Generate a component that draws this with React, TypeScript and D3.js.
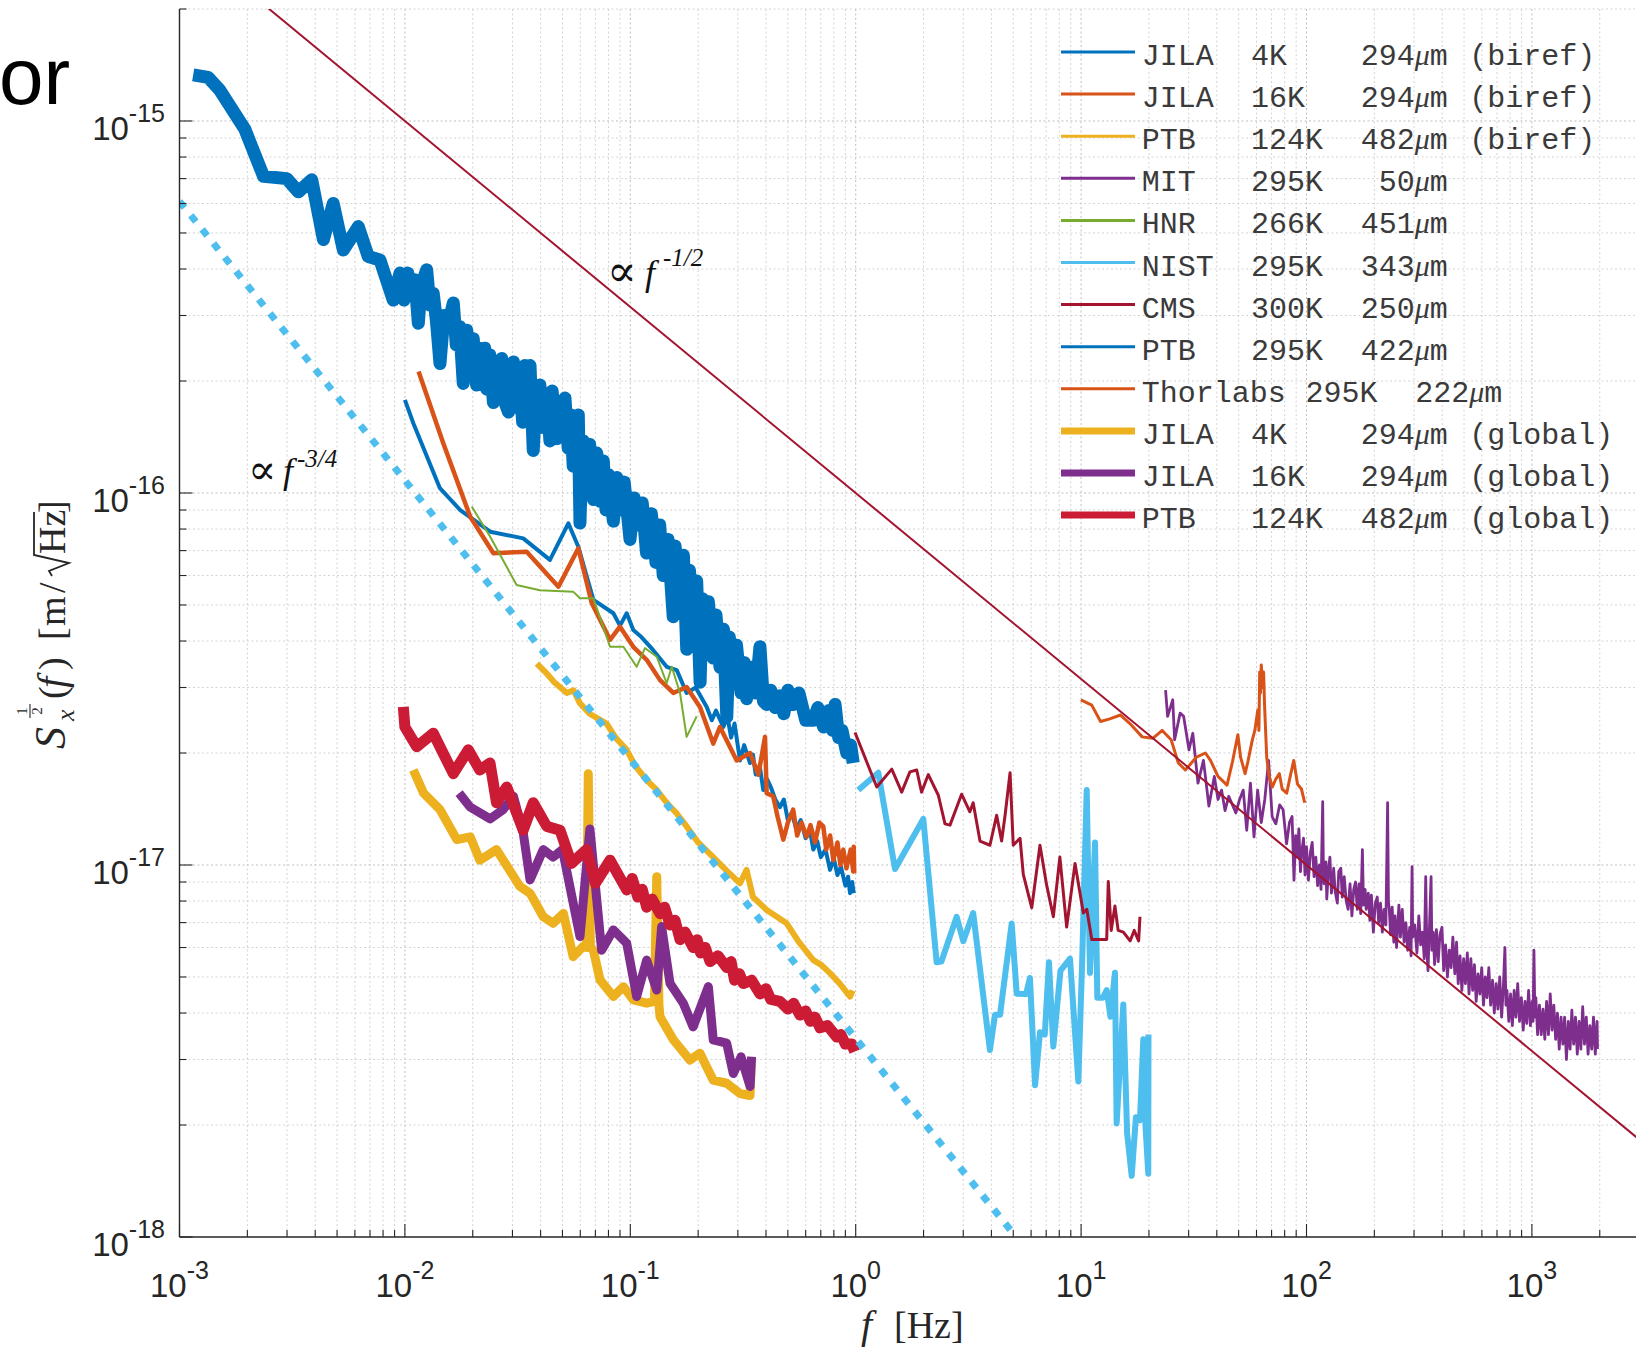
import React from "react";
import * as d3 from "d3";

type Pt = [number, number];

// ---------------- data ----------------
const xTickExponents = [-3, -2, -1, 0, 1, 2, 3];
const yTickExponents = [-18, -17, -16, -15];

const legendNames = ["JILA", "JILA", "PTB", "MIT", "HNR", "NIST", "CMS", "PTB", "Thorlabs", "JILA", "JILA", "PTB"];
const legendTemps = ["4K", "16K", "124K", "295K", "266K", "295K", "300K", "295K", "295K", "4K", "16K", "124K"];
const legendSizes = ["294", "294", "482", "50", "451", "343", "250", "422", "222", "294", "294", "482"];
const legendNotes = ["(biref)", "(biref)", "(biref)", "", "", "", "", "", "", "(global)", "(global)", "(global)"];

const jila4kBiref: Pt[] = [
  [0.01, 1.78e-16], [0.0109, 1.54e-16], [0.0143, 1.03e-16], [0.0176, 9.0e-17], [0.0239, 7.87e-17],
  [0.0335, 7.55e-17], [0.044, 6.61e-17], [0.0531, 8.29e-17], [0.0588, 7.17e-17], [0.0686, 5.16e-17],
  [0.0841, 4.75e-17], [0.09, 4.4e-17], [0.0964, 4.75e-17], [0.1031, 4.28e-17], [0.112, 4.1e-17],
  [0.1264, 3.78e-17], [0.145, 3.41e-17], [0.1607, 3.34e-17], [0.1778, 2.9e-17], [0.195, 3.0e-17],
  [0.2183, 2.66e-17], [0.23, 2.45e-17], [0.24, 2.6e-17], [0.2586, 2.35e-17], [0.27, 2.5e-17],
  [0.28, 2.2e-17], [0.29, 2.4e-17], [0.3067, 1.91e-17], [0.32, 2.1e-17], [0.3397, 1.88e-17],
  [0.35, 1.98e-17], [0.36, 1.75e-17], [0.375, 1.85e-17], [0.389, 1.59e-17], [0.405, 1.7e-17],
  [0.42, 1.62e-17], [0.44, 1.5e-17], [0.4613, 1.43e-17], [0.48, 1.5e-17], [0.5, 1.32e-17],
  [0.52, 1.38e-17], [0.545, 1.25e-17], [0.57, 1.32e-17], [0.6, 1.18e-17], [0.625, 1.25e-17],
  [0.6486, 1.1e-17], [0.675, 1.16e-17], [0.7, 1.05e-17], [0.735, 1.1e-17], [0.769, 9.7e-18],
  [0.8, 1.04e-17], [0.83, 9.4e-18], [0.86, 9.9e-18], [0.9, 8.8e-18], [0.925, 9.3e-18],
  [0.944, 8.4e-18], [0.965, 9.0e-18], [0.98, 8.4e-18],
];

const jila16kBiref: Pt[] = [
  [0.0115, 2.12e-16], [0.0148, 1.36e-16], [0.0195, 8.63e-17], [0.0247, 6.89e-17], [0.0347, 6.95e-17],
  [0.048, 5.6e-17], [0.0588, 7.1e-17], [0.0675, 5.05e-17], [0.0813, 4.03e-17], [0.09, 4.37e-17],
  [0.1031, 3.86e-17], [0.1182, 3.56e-17], [0.1355, 3.14e-17], [0.1552, 2.9e-17], [0.1778, 3.01e-17],
  [0.2037, 2.66e-17], [0.2333, 2.12e-17], [0.25, 2.35e-17], [0.2965, 1.91e-17], [0.3397, 2.0e-17],
  [0.37, 1.75e-17], [0.396, 2.21e-17], [0.4027, 1.56e-17], [0.4305, 1.53e-17], [0.45, 1.35e-17],
  [0.4775, 1.17e-17], [0.5, 1.3e-17], [0.528, 1.41e-17], [0.55, 1.2e-17], [0.575, 1.3e-17],
  [0.606, 1.19e-17], [0.63, 1.28e-17], [0.66, 1.15e-17], [0.69, 1.3e-17], [0.718, 1.27e-17],
  [0.74, 1.1e-17], [0.77, 1.2e-17], [0.7955, 1.03e-17], [0.83, 1.15e-17], [0.855, 1.0e-17],
  [0.881, 1.1e-17], [0.91, 9.8e-18], [0.95, 1.1e-17], [0.975, 9.6e-18], [0.98, 1.12e-17],
  [0.985, 9.5e-18],
];

const ptb124kBiref: Pt[] = [
  [0.0385, 3.48e-17], [0.042, 3.3e-17], [0.046, 3.1e-17], [0.0523, 2.9e-17], [0.056, 2.95e-17],
  [0.0598, 2.72e-17], [0.066, 2.55e-17], [0.0785, 2.4e-17], [0.086, 2.2e-17], [0.0964, 2.04e-17],
  [0.105, 1.85e-17], [0.1182, 1.69e-17], [0.13, 1.6e-17], [0.145, 1.47e-17], [0.16, 1.38e-17],
  [0.1778, 1.27e-17], [0.2, 1.15e-17], [0.2333, 1.05e-17], [0.27, 9.6e-18], [0.3067, 8.93e-18],
  [0.328, 9.7e-18], [0.35, 8.2e-18], [0.4027, 7.57e-18], [0.44, 7.3e-18], [0.494, 6.97e-18],
  [0.56, 6.2e-18], [0.6486, 5.55e-18], [0.7, 5.4e-18], [0.769, 5.12e-18], [0.85, 4.8e-18],
  [0.944, 4.43e-18], [0.97, 4.6e-18],
];

const mit295k: Pt[] = [
  [23.7, 2.95e-17], [24.2, 2.51e-17], [25.5, 2.78e-17], [26.0, 2.17e-17], [27.5, 2.56e-17],
  [28.5, 2.51e-17], [30.1, 2.04e-17], [31.3, 2.26e-17], [33.0, 1.66e-17], [34.9, 1.91e-17],
  [36.9, 1.44e-17], [39.0, 1.73e-17], [40.5, 1.5e-17], [42.0, 1.59e-17], [43.5, 1.4e-17],
  [45.2, 1.53e-17], [48.6, 1.38e-17], [50.5, 1.5e-17], [52.4, 1.59e-17], [54.3, 1.24e-17],
  [56.4, 1.66e-17], [58.5, 1.19e-17], [60.7, 1.59e-17], [63, 1.3e-17], [65.3, 1.5e-17],
  [67.9, 1.91e-17], [70.4, 1.35e-17], [73.1, 1.29e-17], [76, 1.45e-17], [78.7, 1.41e-17],
  [81.6, 1.14e-17], [84, 1.3e-17], [86.3, 1.35e-17],
  [88, 9.1e-18], [89.5, 1.2e-17], [91, 1.05e-17], [92.5, 1.25e-17], [94, 9.6e-18],
  [95.5, 1.1e-17], [97, 1.18e-17], [98.5, 9.4e-18], [100, 1.12e-17], [102, 9.1e-18],
  [104, 1.08e-17], [106, 1.15e-17], [108, 9.3e-18], [110, 1.05e-17], [112, 8.8e-18],
  [114, 1.0e-17], [116, 8.6e-18], [118, 1.48e-17], [119, 9.0e-18], [120, 8.9e-18],
  [122, 1.02e-17], [123, 8.1e-18], [125, 9.6e-18], [127, 1.05e-17], [129, 8.4e-18],
  [132, 9.8e-18], [134, 8.5e-18], [137, 7.9e-18], [139, 9.6e-18], [142, 9.8e-18],
  [144, 8.2e-18], [147, 9.3e-18], [150, 8.0e-18], [153, 7.6e-18], [156, 8.9e-18],
  [159, 7.3e-18], [162, 8.6e-18], [165, 9.0e-18], [168, 7.6e-18], [171, 8.9e-18],
  [174, 7.4e-18], [177, 1.1e-17], [179, 7.8e-18], [182, 8.6e-18], [184, 7.6e-18],
  [188, 8.4e-18], [191, 7.1e-18], [194, 8.3e-18], [198, 6.6e-18], [202, 7.9e-18],
  [206, 8.2e-18], [209, 7.0e-18], [213, 7.9e-18], [217, 6.6e-18], [221, 7.6e-18],
  [225, 6.9e-18], [229, 1.47e-17], [231, 8.0e-18], [233, 7.6e-18], [236, 6.5e-18],
  [240, 7.7e-18], [244, 6.2e-18], [247, 7.3e-18], [251, 6.0e-18], [257, 7.8e-18],
  [261, 6.4e-18], [266, 7.6e-18], [271, 6.2e-18], [276, 7.0e-18], [281, 5.9e-18],
  [287, 6.8e-18], [291, 5.7e-18], [294, 9.9e-18], [296, 6.4e-18], [302, 6.9e-18],
  [309, 5.8e-18], [315, 7.3e-18], [321, 6.1e-18], [327, 6.6e-18], [333, 5.6e-18],
  [338, 9.3e-18], [342, 5.9e-18], [346, 5.2e-18], [350, 6.4e-18], [357, 9.3e-18],
  [360, 5.9e-18], [365, 6.6e-18], [370, 5.4e-18], [377, 6.7e-18], [384, 5.5e-18],
  [391, 6.5e-18], [399, 6.8e-18], [406, 5.2e-18], [414, 6.1e-18], [422, 5.0e-18],
  [430, 5.9e-18], [438, 5.3e-18], [446, 6.4e-18], [455, 5.1e-18], [463, 6.2e-18],
  [471, 4.8e-18], [480, 5.7e-18], [489, 4.6e-18], [498, 5.6e-18], [507, 4.8e-18],
  [517, 5.8e-18], [526, 4.5e-18], [536, 5.6e-18], [546, 4.6e-18], [556, 5.4e-18],
  [566, 4.3e-18], [577, 5.1e-18], [588, 4.5e-18], [599, 5.3e-18], [610, 4.2e-18],
  [621, 5.0e-18], [632, 4.4e-18], [644, 5.3e-18], [656, 4.2e-18], [669, 4.9e-18],
  [681, 4.0e-18], [694, 4.8e-18], [707, 4.1e-18], [720, 5.0e-18], [734, 3.9e-18],
  [747, 4.7e-18], [759, 6.0e-18], [767, 4.2e-18], [775, 4.6e-18], [790, 3.8e-18],
  [804, 4.5e-18], [819, 3.7e-18], [834, 4.6e-18], [849, 3.9e-18], [865, 4.8e-18],
  [881, 3.8e-18], [898, 4.4e-18], [915, 3.6e-18], [932, 4.3e-18], [949, 3.75e-18],
  [967, 4.6e-18], [985, 3.7e-18], [1003, 4.3e-18], [1012, 3.8e-18], [1021, 5.9e-18],
  [1031, 3.9e-18], [1041, 4.4e-18], [1060, 3.5e-18], [1080, 4.2e-18], [1100, 3.5e-18],
  [1120, 4.1e-18], [1141, 3.4e-18], [1162, 4.3e-18], [1184, 3.5e-18], [1206, 4.5e-18],
  [1228, 3.6e-18], [1251, 4.2e-18], [1274, 3.4e-18], [1298, 4.0e-18], [1322, 3.2e-18],
  [1347, 3.9e-18], [1372, 3.3e-18], [1397, 3.9e-18], [1423, 3.0e-18], [1450, 3.8e-18],
  [1477, 3.2e-18], [1504, 4.07e-18], [1532, 3.3e-18], [1561, 3.9e-18], [1590, 3.1e-18],
  [1619, 3.8e-18], [1649, 3.2e-18], [1680, 4.16e-18], [1711, 3.3e-18], [1743, 3.9e-18],
  [1775, 3.1e-18], [1808, 3.7e-18], [1842, 3.2e-18], [1876, 3.9e-18], [1911, 3.1e-18],
  [1946, 3.8e-18], [1955, 3.2e-18],
];

const hnr266k: Pt[] = [
  [0.0198, 9.19e-17], [0.0239, 7.63e-17], [0.0313, 5.66e-17], [0.0397, 5.48e-17], [0.0558, 5.43e-17],
  [0.0598, 5.21e-17], [0.0686, 5.21e-17], [0.0813, 3.86e-17], [0.0932, 3.86e-17], [0.1067, 3.41e-17],
  [0.1161, 3.83e-17], [0.131, 3.63e-17], [0.145, 3.08e-17], [0.1527, 3.41e-17], [0.1662, 2.9e-17],
  [0.1778, 2.21e-17], [0.197, 2.51e-17],
];

const nist295k: Pt[] = [
  [1.027, 1.59e-17], [1.26, 1.77e-17], [1.494, 9.75e-18], [1.995, 1.33e-17], [2.286, 5.48e-18],
  [2.4, 5.5e-18], [2.805, 7.26e-18], [3.0, 6.24e-18], [3.32, 7.43e-18], [3.94, 3.18e-18],
  [4.15, 3.96e-18], [4.37, 3.96e-18], [4.92, 6.96e-18], [5.18, 4.51e-18], [5.7, 4.5e-18],
  [5.93, 4.97e-18], [6.25, 2.56e-18], [6.57, 3.55e-18], [6.9, 3.5e-18], [7.2, 5.48e-18],
  [7.53, 3.25e-18], [8.1, 5.2e-18], [8.93, 5.6e-18], [9.72, 2.62e-18], [10.1, 5.4e-18],
  [10.59, 1.59e-17], [10.95, 5.13e-18], [11.53, 1.15e-17], [11.8, 4.4e-18], [12.5, 4.4e-18],
  [12.99, 4.61e-18], [13.5, 3.91e-18], [14.13, 5.13e-18], [14.38, 2.02e-18], [15.39, 4.22e-18],
  [16.0, 1.9e-18], [16.77, 1.46e-18], [17.5, 2.1e-18], [18.25, 2.06e-18], [18.88, 3.4e-18],
  [19.3, 2.0e-18], [19.86, 1.48e-18], [19.9, 3.5e-18],
];

const cms300k: Pt[] = [
  [0.993, 2.27e-17], [1.24, 1.62e-17], [1.445, 1.81e-17], [1.6, 1.57e-17], [1.74, 1.78e-17],
  [1.865, 1.8e-17], [1.96, 1.57e-17], [2.1, 1.75e-17], [2.326, 1.54e-17], [2.49, 1.29e-17],
  [2.62, 1.28e-17], [2.95, 1.55e-17], [3.21, 1.39e-17], [3.32, 1.47e-17], [3.56, 1.16e-17],
  [3.94, 1.13e-17], [4.22, 1.36e-17], [4.44, 1.16e-17], [4.6, 1.36e-17], [4.84, 1.77e-17],
  [5.0, 1.13e-17], [5.36, 1.18e-17], [5.54, 9.43e-18], [6.04, 7.67e-18], [6.57, 1.13e-17],
  [7.03, 8.84e-18], [7.53, 7.26e-18], [8.05, 1.05e-17], [8.63, 6.81e-18], [9.4, 1.01e-17],
  [10.23, 7.43e-18], [10.6, 7.6e-18], [11.15, 6.31e-18], [12.99, 6.31e-18], [13.2, 9.03e-18],
  [13.6, 6.67e-18], [14.13, 7.76e-18], [14.6, 6.67e-18], [15.4, 6.6e-18], [16.5, 6.25e-18],
  [17.2, 6.67e-18], [18.0, 6.25e-18], [18.25, 7.26e-18],
];

const ptb295k: Pt[] = [
  [1.15e-3, 1.33e-15], [1.34e-3, 1.31e-15], [1.51e-3, 1.21e-15], [1.95e-3, 9.5e-16], [2.36e-3, 7.1e-16],
  [2.99e-3, 7.0e-16], [3.37e-3, 6.45e-16], [3.86e-3, 6.95e-16], [4.35e-3, 4.8e-16], [4.81e-3, 6.0e-16],
  [5.33e-3, 4.5e-16], [6.21e-3, 5.2e-16], [6.88e-3, 4.32e-16], [7.75e-3, 4.23e-16], [8.88e-3, 3.3e-16],
  [9.51e-3, 3.9e-16], [0.0099, 3.3e-16], [0.0103, 3.9e-16], [0.01054, 3.44e-16], [0.01109, 3.74e-16],
  [0.01147, 2.86e-16], [0.0118, 3.6e-16], [0.01249, 3.98e-16], [0.0129, 3.2e-16], [0.01336, 3.44e-16],
  [0.0138, 2.9e-16], [0.01431, 2.23e-16], [0.0149, 3.0e-16], [0.0155, 2.8e-16], [0.0164, 3.24e-16],
  [0.0169, 2.5e-16], [0.0175, 2.8e-16], [0.01815, 1.97e-16], [0.0188, 2.74e-16], [0.0195, 2.3e-16],
  [0.0201, 2.6e-16], [0.0208, 1.95e-16], [0.0214, 2.45e-16], [0.022, 2.1e-16], [0.0226, 2.45e-16],
  [0.0231, 1.9e-16], [0.0238, 2.35e-16], [0.0247, 1.75e-16], [0.0254, 2.25e-16], [0.0262, 1.85e-16],
  [0.0269, 2.3e-16], [0.0278, 1.75e-16], [0.0288, 1.65e-16], [0.0296, 2.15e-16], [0.0303, 2.25e-16],
  [0.0312, 1.7e-16], [0.0324, 1.95e-16], [0.0333, 1.55e-16], [0.034, 2.2e-16], [0.0348, 1.65e-16],
  [0.0359, 2.2e-16], [0.0371, 1.3e-16], [0.038, 1.75e-16], [0.0397, 1.95e-16], [0.041, 1.5e-16],
  [0.0426, 1.85e-16], [0.044, 1.38e-16], [0.045, 1.88e-16], [0.0471, 1.4e-16], [0.049, 1.72e-16],
  [0.0513, 1.8e-16], [0.053, 1.32e-16], [0.0545, 1.62e-16], [0.0558, 1.18e-16], [0.0575, 1.58e-16],
  [0.0588, 1.62e-16], [0.0598, 8.3e-17], [0.0608, 1.2e-16], [0.0618, 1.38e-16], [0.064, 1.1e-16],
  [0.066, 1.35e-16], [0.0686, 9.6e-17], [0.071, 1.28e-16], [0.0735, 9.5e-17], [0.0759, 1.22e-16],
  [0.078, 9.0e-17], [0.08, 1.12e-16], [0.0841, 8.4e-17], [0.087, 1.1e-16], [0.09, 9.0e-17],
  [0.094, 1.07e-16], [0.0997, 7.5e-17], [0.104, 9.7e-17], [0.108, 8.2e-17], [0.113, 9.4e-17],
  [0.118, 6.9e-17], [0.124, 8.8e-17], [0.13, 6.5e-17], [0.135, 8.2e-17], [0.14, 6.0e-17],
  [0.147, 7.5e-17], [0.155, 4.65e-17], [0.158, 7.2e-17], [0.166, 5.3e-17], [0.172, 6.8e-17],
  [0.178, 3.8e-17], [0.183, 6.2e-17], [0.19, 4.6e-17], [0.197, 5.8e-17], [0.204, 3.1e-17],
  [0.209, 5.2e-17], [0.215, 4.0e-17], [0.222, 5.1e-17], [0.233, 3.6e-17], [0.24, 4.7e-17],
  [0.25, 3.4e-17], [0.259, 4.3e-17], [0.268, 2.5e-17], [0.275, 4.1e-17], [0.286, 3.2e-17],
  [0.296, 3.9e-17], [0.31, 2.9e-17], [0.32, 3.5e-17], [0.328, 2.8e-17], [0.345, 3.4e-17],
  [0.36, 2.9e-17], [0.376, 3.86e-17], [0.39, 2.75e-17], [0.403, 2.7e-17], [0.42, 2.95e-17],
  [0.44, 2.65e-17], [0.461, 2.85e-17], [0.48, 2.55e-17], [0.5, 2.95e-17], [0.527, 2.7e-17],
  [0.56, 2.9e-17], [0.6, 2.45e-17], [0.649, 2.45e-17], [0.68, 2.65e-17], [0.72, 2.35e-17],
  [0.76, 2.6e-17], [0.79, 2.3e-17], [0.81, 2.7e-17], [0.84, 2.2e-17], [0.87, 2.3e-17],
  [0.912, 2.0e-17], [0.95, 2.1e-17], [0.975, 1.88e-17],
];

const thorlabs295k: Pt[] = [
  [9.97, 2.78e-17], [11.15, 2.69e-17], [12.2, 2.43e-17], [13.4, 2.47e-17], [14.96, 2.53e-17],
  [16.7, 2.38e-17], [18.66, 2.21e-17], [20.8, 2.19e-17], [22.9, 2.3e-17], [25.1, 2.17e-17],
  [27.0, 1.88e-17], [29.0, 1.8e-17], [32.5, 1.95e-17], [35.6, 2.0e-17], [37.5, 1.91e-17],
  [40.5, 1.73e-17], [44.4, 1.64e-17], [47, 1.9e-17], [49.6, 2.24e-17], [51, 1.95e-17],
  [53.4, 1.76e-17], [55, 1.9e-17], [57.5, 2.17e-17], [59, 2.3e-17], [60.8, 2.61e-17],
  [61.5, 2.3e-17], [62, 3.3e-17], [62.5, 2.9e-17], [63.0, 3.45e-17], [64, 3.0e-17],
  [64.5, 3.3e-17], [65.2, 2.66e-17], [66.6, 1.95e-17], [68, 1.75e-17], [70.5, 1.62e-17],
  [73, 1.7e-17], [75.8, 1.76e-17], [78, 1.6e-17], [81.7, 1.56e-17], [85, 1.75e-17],
  [87.8, 1.91e-17], [91.2, 1.65e-17], [95, 1.6e-17], [98.2, 1.47e-17],
];

const jila4kGlobal: Pt[] = [
  [0.0109, 1.8e-17], [0.0121, 1.56e-17], [0.0143, 1.41e-17], [0.017, 1.17e-17], [0.0195, 1.19e-17],
  [0.0215, 1.03e-17], [0.0255, 1.1e-17], [0.0324, 8.75e-18], [0.0359, 8.4e-18], [0.0411, 7.26e-18],
  [0.0455, 6.97e-18], [0.0505, 7.41e-18], [0.0558, 5.67e-18], [0.0618, 6.04e-18], [0.064, 6.0e-18],
  [0.0651, 1.76e-17], [0.0665, 6.0e-18], [0.0686, 5.9e-18], [0.0734, 4.91e-18], [0.0841, 4.43e-18],
  [0.0932, 4.71e-18], [0.1031, 4.34e-18], [0.1182, 4.25e-18], [0.128, 4.3e-18], [0.131, 9.3e-18],
  [0.134, 4.2e-18], [0.1355, 3.91e-18], [0.1552, 3.39e-18], [0.184, 2.99e-18], [0.2037, 3.12e-18],
  [0.2333, 2.64e-18], [0.2676, 2.59e-18], [0.3067, 2.43e-18], [0.3397, 2.4e-18], [0.345, 3.05e-18],
];

const jila16kGlobal: Pt[] = [
  [0.0174, 1.56e-17], [0.0195, 1.43e-17], [0.0239, 1.33e-17], [0.0273, 1.41e-17], [0.0303, 1.53e-17],
  [0.0335, 1.22e-17], [0.0359, 9.12e-18], [0.0411, 1.1e-17], [0.0455, 1.05e-17], [0.05, 1.1e-17],
  [0.0598, 6.42e-18], [0.0662, 1.25e-17], [0.0746, 5.9e-18], [0.0841, 6.69e-18], [0.0964, 6.16e-18],
  [0.1067, 4.43e-18], [0.1182, 5.55e-18], [0.131, 4.61e-18], [0.1377, 6.83e-18], [0.15, 4.81e-18],
  [0.1718, 4.25e-18], [0.19, 3.67e-18], [0.222, 4.71e-18], [0.2333, 3.39e-18], [0.2676, 3.32e-18],
  [0.2864, 2.75e-18], [0.31, 3.05e-18], [0.34, 2.54e-18], [0.345, 3.05e-18],
];

const ptb124kGlobal: Pt[] = [
  [0.00984, 2.66e-17], [0.01, 2.35e-17], [0.01128, 2.08e-17], [0.01336, 2.26e-17], [0.0164, 1.76e-17],
  [0.0191, 2.04e-17], [0.0215, 1.8e-17], [0.02385, 1.88e-17], [0.0255, 1.47e-17], [0.0283, 1.62e-17],
  [0.0335, 1.24e-17], [0.0371, 1.47e-17], [0.0426, 1.27e-17], [0.0488, 1.24e-17], [0.0548, 1.01e-17],
  [0.064, 1.1e-17], [0.07, 8.93e-18], [0.0813, 1.03e-17], [0.0964, 8.57e-18], [0.102, 9.2e-18],
  [0.108, 8.2e-18], [0.113, 8.6e-18], [0.1182, 7.7e-18], [0.125, 8.1e-18], [0.1355, 7.4e-18],
  [0.142, 7.7e-18], [0.15, 6.9e-18], [0.158, 7.1e-18], [0.1662, 6.3e-18], [0.175, 6.6e-18],
  [0.19, 6.0e-18], [0.198, 6.3e-18], [0.205, 5.8e-18], [0.215, 6.0e-18], [0.226, 5.5e-18],
  [0.245, 5.7e-18], [0.2676, 5.3e-18], [0.28, 5.5e-18], [0.29, 4.9e-18], [0.305, 5.1e-18],
  [0.317, 4.8e-18], [0.345, 4.9e-18], [0.376, 4.5e-18], [0.4, 4.65e-18], [0.42, 4.35e-18],
  [0.4613, 4.3e-18], [0.5, 4.1e-18], [0.53, 4.25e-18], [0.566, 3.95e-18], [0.6, 4.05e-18],
  [0.63, 3.8e-18], [0.66, 3.9e-18], [0.695, 3.65e-18], [0.75, 3.7e-18], [0.8236, 3.45e-18],
  [0.86, 3.5e-18], [0.9, 3.3e-18], [0.959, 3.3e-18], [0.99, 3.15e-18],
];

// reference power laws (straight lines in log-log, given by end points)
const refHalf: Pt[] = [[1e-3, 3.162e-15], [1e4, 1e-18]];
const refThreeQuarter: Pt[] = [[1e-3, 6.08e-16], [5.15, 1e-18]];

// ---------------- styles ----------------
const C = {
  blue: "#0072BD",
  orange: "#D95319",
  yellow: "#EDB120",
  purple: "#7E2F8E",
  green: "#77AC30",
  lightblue: "#4DBEEE",
  darkred: "#A2142F",
  red: "#CB1B35",
};

const SANS = "'Liberation Sans', Arial, Helvetica, sans-serif";
const SERIF = "'Liberation Serif', 'Times New Roman', 'DejaVu Serif', serif";
const MONO = "'Liberation Mono', 'Courier New', monospace";
const TXT = "#262626";

const seriesList: { data: Pt[]; color: string; w: number; legendW: number }[] = [
  { data: jila4kBiref, color: C.blue, w: 4, legendW: 3 },
  { data: jila16kBiref, color: C.orange, w: 4.5, legendW: 3 },
  { data: ptb124kBiref, color: C.yellow, w: 6, legendW: 3 },
  { data: mit295k, color: C.purple, w: 2.8, legendW: 3 },
  { data: hnr266k, color: C.green, w: 2, legendW: 3 },
  { data: nist295k, color: C.lightblue, w: 6, legendW: 3 },
  { data: cms300k, color: C.darkred, w: 3, legendW: 3 },
  { data: ptb295k, color: C.blue, w: 13, legendW: 3 },
  { data: thorlabs295k, color: C.orange, w: 3, legendW: 3 },
  { data: jila4kGlobal, color: C.yellow, w: 9, legendW: 7 },
  { data: jila16kGlobal, color: C.purple, w: 9, legendW: 7 },
  { data: ptb124kGlobal, color: C.red, w: 11, legendW: 7 },
];

export default function App() {
  const W = 1636;
  const H = 1350;
  const x = d3.scaleLog().domain([1e-3, 1e4]).range([179.5, 179.5 + 7 * 225.4]);
  const y = d3.scaleLog().domain([1e-18, 2e-15]).range([1237, 9]);
  const line = d3
    .line<Pt>()
    .x((d) => x(d[0]))
    .y((d) => y(d[1]));

  const left = x(1e-3);
  const bottom = y(1e-18);
  const top = y(2e-15);

  const xTicks: { v: number; major: boolean }[] = [];
  for (let e = -3; e <= 3; e++) {
    for (let m = 1; m <= 9; m++) xTicks.push({ v: m * Math.pow(10, e), major: m === 1 });
  }
  const yTicks: { v: number; major: boolean }[] = [];
  for (let e = -18; e <= -16; e++) {
    for (let m = 1; m <= 9; m++) yTicks.push({ v: m * Math.pow(10, e), major: m === 1 });
  }
  yTicks.push({ v: 1e-15, major: true });
  yTicks.push({ v: 2e-15, major: false });

  // legend layout
  const lx0 = 1061;
  const lx1 = 1135;
  const tx = 1141.7;
  const cw = 18.2;
  const row0 = 52;
  const rowH = 42.1;

  return (
    <svg
      width={W}
      height={H}
      viewBox={`0 0 ${W} ${H}`}
      style={{ position: "absolute", left: 0, top: 0, display: "block", background: "#fff" }}
    >
      <rect x={0} y={0} width={W} height={H} fill="#fff" />
      <defs>
        <clipPath id="plotClip">
          <rect x={left} y={top} width={W - left} height={bottom - top} />
        </clipPath>
      </defs>

      {/* slide remnant */}
      <text x={-1} y={104} fontFamily={SANS} fontSize={80} fill="#000">
        or
      </text>

      {/* grid */}
      <g>
        {xTicks
          .filter((t) => x(t.v) > left + 0.5 && x(t.v) <= W)
          .map((t, i) => (
            <line
              key={"gx" + i}
              x1={x(t.v)}
              x2={x(t.v)}
              y1={top}
              y2={bottom}
              stroke={t.major ? "#bfbfbf" : "#d4d4d4"}
              strokeWidth={1}
              strokeDasharray="2 2.5"
            />
          ))}
        {yTicks
          .filter((t) => y(t.v) < bottom - 0.5)
          .map((t, i) => (
            <line
              key={"gy" + i}
              x1={left}
              x2={W}
              y1={y(t.v)}
              y2={y(t.v)}
              stroke={t.major ? "#bfbfbf" : "#d4d4d4"}
              strokeWidth={1}
              strokeDasharray="2 2.5"
            />
          ))}
      </g>

      {/* data */}
      <g clipPath="url(#plotClip)">
        {seriesList.map((s, i) => (
          <path
            key={"s" + i}
            d={line(s.data) || ""}
            fill="none"
            stroke={s.color}
            strokeWidth={s.w}
            strokeLinejoin="round"
            strokeLinecap="butt"
          />
        ))}
        <path d={line(refHalf) || ""} fill="none" stroke={C.darkred} strokeWidth={2} />
        <path
          d={line(refThreeQuarter) || ""}
          fill="none"
          stroke={C.lightblue}
          strokeWidth={7}
          strokeDasharray="8 10"
        />
      </g>

      {/* axes */}
      <g stroke={TXT} strokeWidth={1.4}>
        <line x1={left} x2={left} y1={top} y2={bottom} />
        <line x1={left} x2={W} y1={bottom} y2={bottom} />
        {xTicks
          .filter((t) => x(t.v) <= W)
          .map((t, i) => (
            <line key={"tx" + i} x1={x(t.v)} x2={x(t.v)} y1={bottom} y2={bottom - (t.major ? 13 : 7)} strokeWidth={1.1} />
          ))}
        {yTicks.map((t, i) => (
          <line key={"ty" + i} x1={left} x2={left + (t.major ? 13 : 7)} y1={y(t.v)} y2={y(t.v)} strokeWidth={1.1} />
        ))}
      </g>

      {/* tick labels */}
      <g fontFamily={SANS} fill={TXT}>
        {yTickExponents.map((e) => (
          <text key={"yl" + e} x={165} y={y(Math.pow(10, e)) + 19} textAnchor="end" fontSize={33}>
            10
            <tspan dy={-18} fontSize={25}>
              {String(e)}
            </tspan>
          </text>
        ))}
        {xTickExponents.map((e) => (
          <text key={"xl" + e} x={x(Math.pow(10, e))} y={1297} textAnchor="middle" fontSize={33}>
            10
            <tspan dy={-18} fontSize={25}>
              {String(e)}
            </tspan>
          </text>
        ))}
      </g>

      {/* power-law annotations */}
      <g fontFamily={SERIF} fill="#111">
        <text x={607} y={286} fontSize={44}>∝</text>
        <text x={645} y={285} fontSize={36} fontStyle="italic">f</text>
        <text x={663} y={266} fontSize={25} fontStyle="italic">-1/2</text>
        <text x={248} y={484} fontSize={42}>∝</text>
        <text x={283} y={483} fontSize={36} fontStyle="italic">f</text>
        <text x={297} y={467} fontSize={25} fontStyle="italic">-3/4</text>
      </g>

      {/* legend */}
      <g>
        {legendNames.map((name, i) => {
          const ry = row0 + i * rowH;
          const s = seriesList[i];
          const tempIdx = Math.max(6, name.length + 1);
          const sizeEnd = tempIdx + 9;
          const by = ry + 13;
          return (
            <g key={"lg" + i}>
              <line x1={lx0} x2={lx1} y1={ry} y2={ry} stroke={s.color} strokeWidth={s.legendW} />
              <text x={tx} y={by} fontFamily={MONO} fontSize={30} fill="#3a3a3a">
                {name}
              </text>
              <text x={tx + tempIdx * cw} y={by} fontFamily={MONO} fontSize={30} fill="#3a3a3a">
                {legendTemps[i]}
              </text>
              <text x={tx + sizeEnd * cw} y={by} fontFamily={MONO} fontSize={30} fill="#3a3a3a" textAnchor="end">
                {legendSizes[i]}
              </text>
              <text x={tx + sizeEnd * cw} y={by} fontSize={30} fill="#3a3a3a">
                <tspan fontFamily={SERIF} fontStyle="italic">μ</tspan>
                <tspan fontFamily={MONO}>m</tspan>
              </text>
              {legendNotes[i] && (
                <text x={tx + 18 * cw} y={by} fontFamily={MONO} fontSize={30} fill="#3a3a3a">
                  {legendNotes[i]}
                </text>
              )}
            </g>
          );
        })}
      </g>

      {/* y axis label */}
      <g transform="rotate(-90)" fontFamily={SERIF} fill={TXT}>
        <text x={-749} y={65} fontSize={44} fontStyle="italic">S</text>
        <text x={-721} y={74} fontSize={26} fontStyle="italic">x</text>
        <text x={-711} y={27} fontSize={15} textAnchor="middle">1</text>
        <line x1={-718} x2={-704} y1={30} y2={30} stroke={TXT} strokeWidth={1.1} />
        <text x={-711} y={42} fontSize={15} textAnchor="middle">2</text>
        <text x={-699} y={65} fontSize={38}>(</text>
        <text x={-688} y={65} fontSize={40} fontStyle="italic">f</text>
        <text x={-670} y={65} fontSize={38}>)</text>
        <text x={-640} y={65} fontSize={38}>[</text>
        <text x={-626} y={65} fontSize={38}>m</text>
        <text x={-593} y={65} fontSize={38}>/</text>
        <path d="M -576 52 L -571 49 L -563 69 L -555 34 L -512 34" fill="none" stroke={TXT} strokeWidth={1.8} />
        <text x={-554} y={65} fontSize={38}>Hz</text>
        <text x={-513} y={65} fontSize={38}>]</text>
      </g>

      {/* x axis label */}
      <g fontFamily={SERIF} fill={TXT}>
        <text x={861} y={1338} fontSize={40} fontStyle="italic">f</text>
        <text x={894} y={1338} fontSize={38}>[Hz]</text>
      </g>
    </svg>
  );
}
